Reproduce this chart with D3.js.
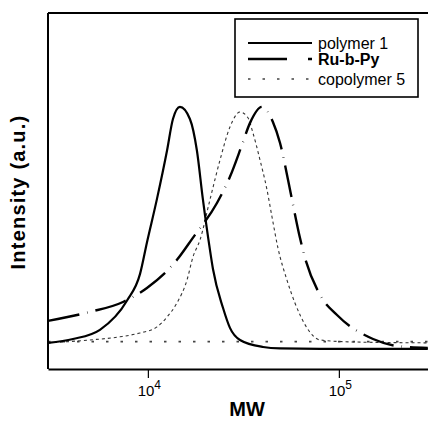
<!DOCTYPE html>
<html lang="en">
<head>
<meta charset="UTF-8">
<title>GPC traces</title>
<script src="https://cdn.jsdelivr.net/npm/d3@7"></script>
<style>
  body { margin: 0; background: #fff; }
  text { font-family: "Liberation Sans", Arial, sans-serif; }
</style>
</head>
<body>
<script>
// molecular weight (x, log) and normalised intensity for each trace
var polymerMW = [3000, 4055, 5610, 7780, 9100, 9890, 11160, 12600, 13530, 14720, 16600, 18060, 19400, 21130, 21920, 24730, 26900, 30360, 40080, 49200, 80000, 292000];
var polymerI  = [0.025, 0.041, 0.079, 0.20, 0.31, 0.44, 0.62, 0.82, 0.95, 1.0, 0.95, 0.82, 0.62, 0.41, 0.33, 0.17, 0.087, 0.037, 0.008, 0.002, 0, 0];

var rubpyMW = [3000, 4977, 7410, 9890, 14200, 17200, 23000, 26900, 31100, 34270, 39560, 45150, 49200, 54200, 56900, 62550, 66500, 79700, 97800, 151000, 201500, 292000];
var rubpyI  = [0.116, 0.153, 0.194, 0.252, 0.368, 0.459, 0.603, 0.711, 0.843, 0.934, 1.0, 0.938, 0.851, 0.698, 0.615, 0.459, 0.376, 0.223, 0.14, 0.041, 0.012, 0.004];

var copolyMW = [3000, 4977, 7145, 9100, 11170, 12600, 14200, 16030, 17220, 18740, 21130, 23870, 26900, 30360, 33420, 35480, 38640, 42060, 44670, 47980, 53460, 58880, 68060, 79620, 114300, 292000];
var copolyI  = [0.025, 0.037, 0.05, 0.066, 0.091, 0.132, 0.19, 0.285, 0.38, 0.45, 0.616, 0.781, 0.917, 0.979, 0.955, 0.893, 0.781, 0.657, 0.545, 0.417, 0.285, 0.19, 0.087, 0.037, 0.029, 0.025];

var baselineMW = [3000, 300000];
var baselineI  = [0.03, 0.03];

var xTicks = [1e4, 1e5];
var xTickExp = ["4", "5"];
var legendNames = ["polymer 1", "Ru-b-Py", "copolymer 5"];

var w = 428, h = 421;
var mLeft = 48, mTop = 13, mBottom = 369, mRight = 430;

var svg = d3.select("body").append("svg")
  .attr("width", w)
  .attr("height", h);

var xScale = d3.scaleLog()
  .domain([3000, 300000])
  .range([mLeft, mRight]);

var yScale = d3.scaleLinear()
  .domain([-0.083, 1.388])
  .range([mBottom, mTop]);

function pts(xs, ys) {
  return xs.map(function(d, i) { return [d, ys[i]]; });
}

var line = d3.line()
  .x(d => xScale(d[0]))
  .y(d => yScale(d[1]))
  .curve(d3.curveMonotoneX);

var plot = svg.append("g");

// dotted baseline
plot.append("path")
  .attr("d", line(pts(baselineMW, baselineI)))
  .attr("fill", "none")
  .attr("stroke", "#444")
  .attr("stroke-width", 1.6)
  .attr("stroke-dasharray", "2.5,12");

// copolymer 5
plot.append("path")
  .attr("d", line(pts(copolyMW, copolyI)))
  .attr("fill", "none")
  .attr("stroke", "#333")
  .attr("stroke-width", 1.1)
  .attr("stroke-dasharray", "3,3");

// Ru-b-Py, long dash with a faint dot
plot.append("path")
  .attr("d", line(pts(rubpyMW, rubpyI)))
  .attr("fill", "none")
  .attr("stroke", "#000")
  .attr("stroke-width", 2.4)
  .attr("stroke-dasharray", "32,8,0.5,8");

// polymer 1
plot.append("path")
  .attr("d", line(pts(polymerMW, polymerI)))
  .attr("fill", "none")
  .attr("stroke", "#000")
  .attr("stroke-width", 2.2);

// frame
svg.append("line")
  .attr("x1", mLeft).attr("x2", w)
  .attr("y1", mTop).attr("y2", mTop)
  .attr("stroke", "#000").attr("stroke-width", 2);
svg.append("line")
  .attr("x1", mLeft).attr("x2", mLeft)
  .attr("y1", mTop).attr("y2", mBottom)
  .attr("stroke", "#000").attr("stroke-width", 2);

var xAxis = d3.axisBottom(xScale)
  .tickValues(xTicks)
  .tickSize(9)
  .tickSizeOuter(0)
  .tickFormat("");

var gx = svg.append("g")
  .attr("transform", "translate(0," + mBottom + ")")
  .call(xAxis);
gx.select(".domain").attr("stroke-width", 2);
gx.selectAll(".tick line").attr("stroke-width", 1.2);

gx.selectAll(".tick").append("text")
  .attr("y", 27)
  .attr("x", 1)
  .attr("fill", "#000")
  .attr("font-size", 15)
  .attr("text-anchor", "middle")
  .each(function(d, i) {
    var t = d3.select(this);
    t.append("tspan").text("10");
    t.append("tspan").attr("dy", -7).attr("font-size", 12).text(xTickExp[i]);
  });

svg.append("text")
  .attr("x", 247)
  .attr("y", 416)
  .attr("text-anchor", "middle")
  .attr("font-size", 20)
  .attr("font-weight", "bold")
  .text("MW");

svg.append("text")
  .attr("transform", "translate(25,192) rotate(-90)")
  .attr("text-anchor", "middle")
  .attr("font-size", 20)
  .attr("font-weight", "bold")
  .attr("letter-spacing", 1.2)
  .text("Intensity (a.u.)");

// legend
var lg = svg.append("g");
lg.append("rect")
  .attr("x", 235).attr("y", 19)
  .attr("width", 183).attr("height", 78)
  .attr("fill", "#fff")
  .attr("stroke", "#000")
  .attr("stroke-width", 1.6);

var legendY = [43, 59, 79];
var legendDash = [null, "39,21,4,30", "2.5,12"];
var legendWidth = [2, 2.4, 1.4];

legendNames.forEach(function(name, i) {
  lg.append("line")
    .attr("x1", 248).attr("x2", 312)
    .attr("y1", legendY[i]).attr("y2", legendY[i])
    .attr("stroke", i === 2 ? "#444" : "#000")
    .attr("stroke-width", legendWidth[i])
    .attr("stroke-dasharray", legendDash[i]);
  lg.append("text")
    .attr("x", 318)
    .attr("y", legendY[i] + 5.5)
    .attr("font-size", 16)
    .attr("font-weight", i === 1 ? "bold" : "normal")
    .text(name);
});
</script>
</body>
</html>
